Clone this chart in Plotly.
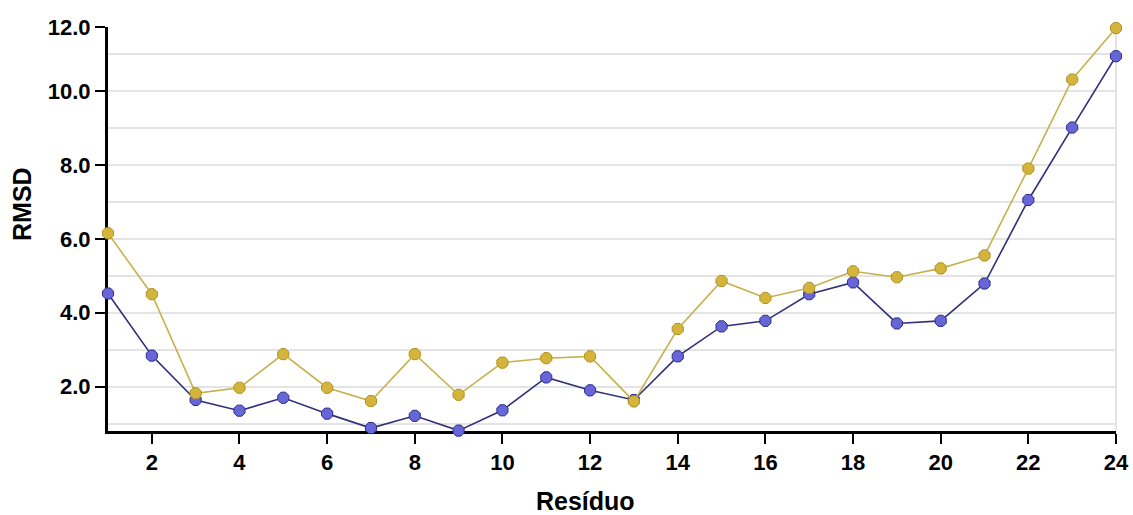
import plotly.graph_objects as go

# Residue index along the chain
residuo = list(range(1, 25))

# RMSD per residue for the two runs
rmsd_gold = [6.15, 4.50, 1.82, 1.97, 2.88, 1.97, 1.61, 2.88, 1.78, 2.65, 2.77, 2.82,
             1.60, 3.56, 4.86, 4.40, 4.67, 5.12, 4.96, 5.20, 5.55, 7.90, 10.31, 11.70]
rmsd_blue = [4.52, 2.84, 1.64, 1.35, 1.70, 1.27, 0.88, 1.21, 0.81, 1.36, 2.25, 1.90,
             1.64, 2.82, 3.63, 3.78, 4.50, 4.82, 3.71, 3.78, 4.79, 7.05, 9.01, 10.94]

# Axis extent and tick labelling
y_min, y_max = 0.80, 11.73
y_tickvals = [2, 4, 6, 8, 10, y_max]
y_ticktext = ["2.0", "4.0", "6.0", "8.0", "10.0", "12.0"]
y_minor_vals = [1, 3, 5, 7, 9, 11]
x_tickvals = list(range(2, 25, 2))

FONT = "Liberation Sans, Arial, sans-serif"
GRID = "#e4e4e4"

fig = go.Figure()

fig.add_trace(go.Scatter(
    x=residuo, y=rmsd_blue, mode="lines+markers", cliponaxis=False,
    line=dict(color="#2f2f7a", width=1.6),
    marker=dict(symbol="octagon", size=12, color="#6666d6",
                line=dict(color="#2d2d8c", width=1)),
    showlegend=False,
))
fig.add_trace(go.Scatter(
    x=residuo, y=rmsd_gold, mode="lines+markers", cliponaxis=False,
    line=dict(color="#c6b14c", width=1.6),
    marker=dict(symbol="octagon", size=12, color="#d4b43a",
                line=dict(color="#ad9224", width=1)),
    showlegend=False,
))

fig.update_layout(
    width=1133, height=515,
    margin=dict(l=108, r=17, t=27, b=84),
    paper_bgcolor="white", plot_bgcolor="white",
    font=dict(family=FONT, color="black"),
    xaxis=dict(
        range=[1, 24], tickmode="array", tickvals=x_tickvals,
        showgrid=False, zeroline=False, automargin=False,
        showline=True, linecolor="black", linewidth=3,
        ticks="outside", ticklen=10, tickwidth=2, tickcolor="black",
        tickfont=dict(family=FONT, size=22, color="black", weight="bold"),
        layer="below traces",
    ),
    yaxis=dict(
        range=[y_min, y_max], tickmode="array",
        tickvals=y_tickvals, ticktext=y_ticktext, automargin=False,
        showgrid=True, gridcolor=GRID, gridwidth=2, zeroline=False,
        showline=True, linecolor="black", linewidth=3,
        ticks="outside", ticklen=10, tickwidth=2, tickcolor="black",
        tickfont=dict(family=FONT, size=22, color="black", weight="bold"),
        minor=dict(tickmode="array", tickvals=y_minor_vals, showgrid=True,
                   gridcolor=GRID, gridwidth=2, ticks=""),
        layer="below traces",
    ),
    shapes=[dict(type="line", xref="x domain", yref="y domain",
                 x0=1, x1=1, y0=0, y1=1, layer="below",
                 line=dict(color=GRID, width=2))],
    annotations=[
        dict(text="Resíduo", xref="paper", yref="paper", x=0.474, y=0,
             yshift=-70, xanchor="center", yanchor="middle", showarrow=False,
             font=dict(family=FONT, size=25, color="black", weight="bold")),
        dict(text="RMSD", xref="paper", yref="paper", x=0, xshift=-86,
             y=0.562, xanchor="center", yanchor="middle", textangle=-90,
             showarrow=False,
             font=dict(family=FONT, size=25, color="black", weight="bold")),
    ],
)

fig.write_html("out.html")
